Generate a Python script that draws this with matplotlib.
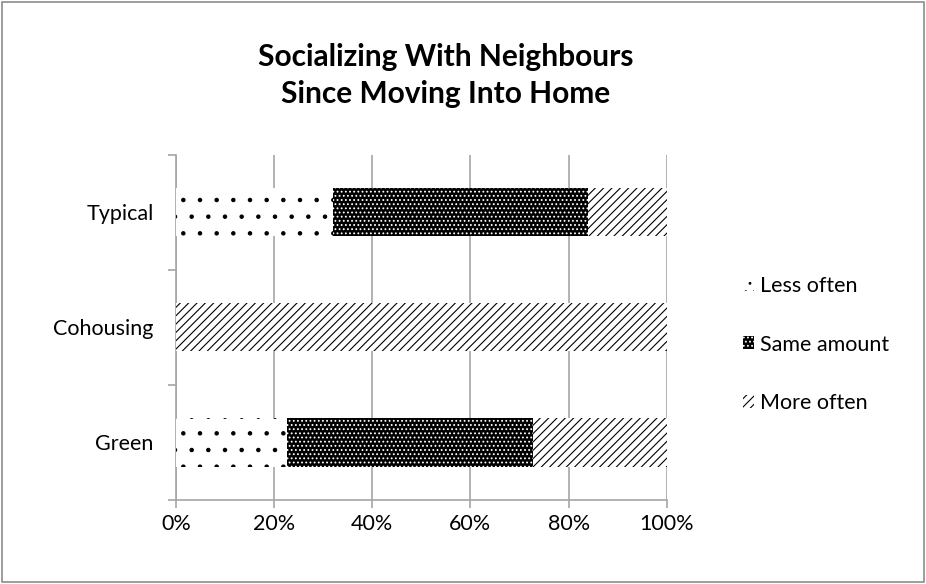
import numpy as np
import matplotlib.pyplot as plt
from matplotlib.patches import Patch, Rectangle

plt.rcParams['font.family'] = ['Lato', 'DejaVu Sans']
plt.rcParams['hatch.linewidth'] = 0.8

categories = ["Green", "Cohousing", "Typical"]
less_often = [22.7, 0, 32]
same_amount = [50.0, 0, 52]
more_often = [27.3, 100, 16]

ticks = [0, 20, 40, 60, 80, 100]
tick_labels = ["0%", "20%", "40%", "60%", "80%", "100%"]

fig = plt.figure(figsize=(9.26, 5.84), dpi=100)
ax = fig.add_axes([0.190, 0.144, 0.530, 0.591])

y = np.arange(len(categories))
h = 0.42
left = np.zeros(len(categories))

# три сегмента каждой полосы
ax.barh(y, less_often, h, left=left, color='white', edgecolor='black',
        hatch='.', linewidth=0, zorder=3)
left += less_often
ax.barh(y, same_amount, h, left=left, color='black', edgecolor='white',
        hatch='....', linewidth=0, zorder=3)
left += same_amount
ax.barh(y, more_often, h, left=left, color='white', edgecolor='black',
        hatch='////', linewidth=0, zorder=3)

grid_c = '#a6a6a6'
ax.set_xlim(0, 100)
ax.set_ylim(-0.5, 2.5)
ax.set_xticks(ticks)
ax.set_xticklabels(tick_labels, fontsize=15.5)
ax.xaxis.grid(True, color=grid_c, linewidth=1.2, zorder=0)
ax.tick_params(axis='x', length=6, color=grid_c, width=1.2, pad=4)

ax.set_yticks(y)
ax.set_yticklabels(categories, fontsize=15.5)
ax.set_yticks(np.arange(-0.5, 3.0, 1.0), minor=True)
ax.tick_params(axis='y', which='major', length=0, pad=16)
ax.tick_params(axis='y', which='minor', length=6, color=grid_c, width=1.2)

for side in ['top', 'right']:
    ax.spines[side].set_visible(False)
for side in ['left', 'bottom']:
    ax.spines[side].set_color(grid_c)
    ax.spines[side].set_linewidth(1.2)

fig.text(0.481, 0.871, "Socializing With Neighbours\nSince Moving Into Home",
         fontsize=21.5, fontweight='bold', ha='center', va='center',
         linespacing=1.42)

handles = [
    Patch(facecolor='white', edgecolor='black', hatch='..', linewidth=0),
    Patch(facecolor='black', edgecolor='white', hatch='....', linewidth=0),
    Patch(facecolor='white', edgecolor='black', hatch='////', linewidth=0),
]
fig.legend(handles, ["Less often", "Same amount", "More often"],
           loc='center left', bbox_to_anchor=(0.781, 0.41), frameon=False,
           fontsize=15.5, handlelength=0.55, handleheight=0.55,
           handletextpad=0.25, labelspacing=1.8)

# рамка вокруг всей диаграммы
fig.patches.append(Rectangle((0.002, 0.003), 0.996, 0.994,
                             transform=fig.transFigure, fill=False,
                             edgecolor='#8c8c8c', linewidth=1.2))

fig.savefig("out.png", dpi=100)
